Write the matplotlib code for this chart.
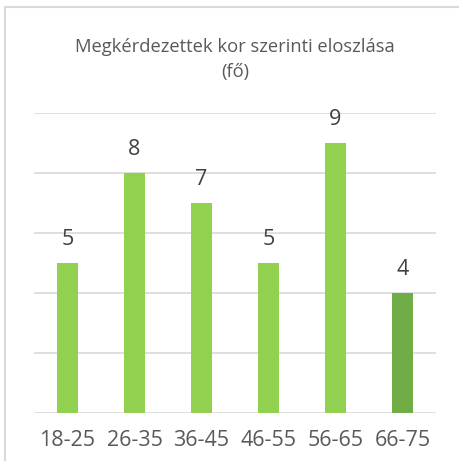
import matplotlib
matplotlib.use("Agg")
import matplotlib.pyplot as plt
from matplotlib.lines import Line2D

categories = ["18-25", "26-35", "36-45", "46-55", "56-65", "66-75"]
values = [5, 8, 7, 5, 9, 4]
bar_colors = ["#92D050", "#92D050", "#92D050", "#92D050", "#92D050", "#70AD47"]
title = "Megkérdezettek kor szerinti eloszlása\n(fő)"

plt.rcParams['font.family'] = ['Open Sans', 'DejaVu Sans']
text_color = "#595959"

fig = plt.figure(figsize=(4.59, 4.69), dpi=100)
ax = fig.add_axes([34/459, 56/469, 402/459, 300/469])

x = list(range(len(categories)))
bars = ax.bar(x, values, width=0.31, color=bar_colors, zorder=3)
for xi, v in zip(x, values):
    ax.text(xi, v + 0.42, str(v), ha="center", va="bottom", fontsize=15.5, color="#404040")

ax.set_xlim(-0.5, len(categories) - 0.5)
ax.set_ylim(0, 10)
ax.set_yticks([0, 2, 4, 6, 8, 10])
ax.yaxis.grid(True, color="#D9D9D9", linewidth=1.2, zorder=0)
ax.tick_params(axis="y", left=False, labelleft=False)
ax.tick_params(axis="x", bottom=False, pad=9, labelsize=15.5, labelcolor=text_color)
ax.set_xticks(x)
ax.set_xticklabels(categories)
for s in ax.spines.values():
    s.set_visible(False)

fig.text(235/459, 1 - 59/469, title, ha="center", va="center", fontsize=13.2,
         color=text_color, linespacing=1.5)

# frame lines (top and left)
fig.add_artist(Line2D([5/459, 1.0], [1 - 7/469, 1 - 7/469], transform=fig.transFigure,
                      color="#D9D9D9", linewidth=1.5))
fig.add_artist(Line2D([5/459, 5/459], [1 - 7/469, 1 - 460/469], transform=fig.transFigure,
                      color="#D9D9D9", linewidth=1.5))

fig.savefig("out.png", dpi=100)
